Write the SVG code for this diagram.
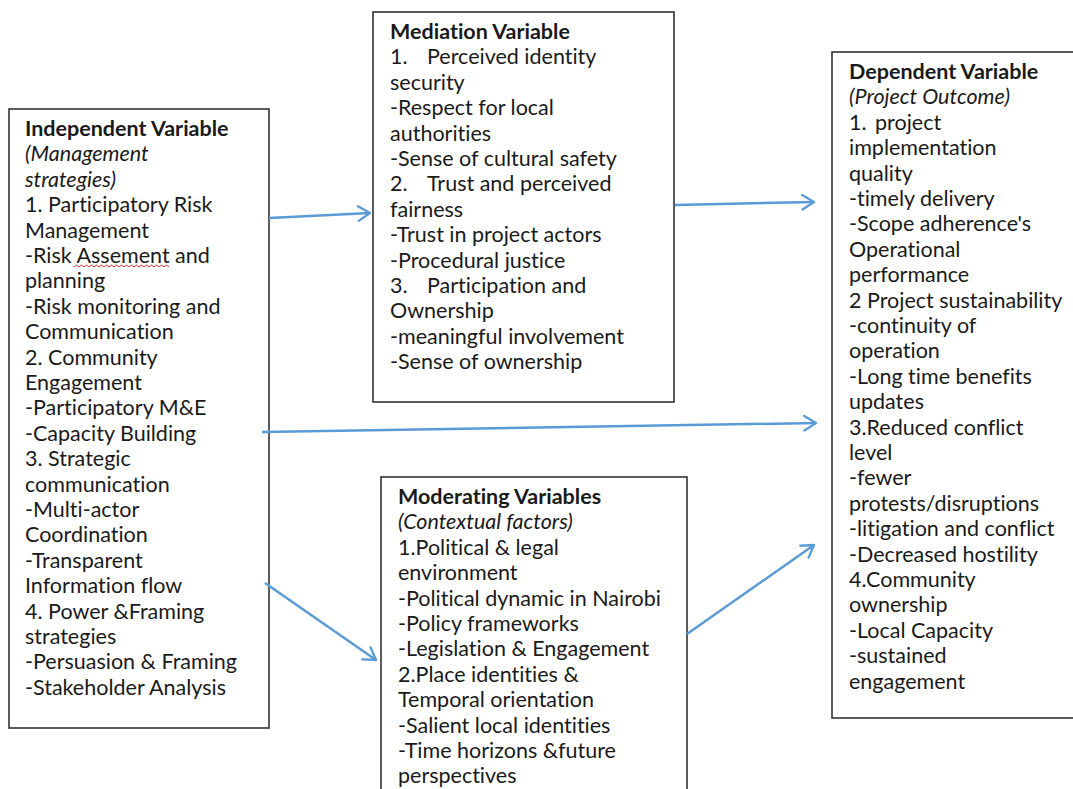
<svg xmlns="http://www.w3.org/2000/svg" width="1073" height="789" viewBox="0 0 1073 789">
<defs>
<style>
.box{fill:#fff;stroke:#333;stroke-width:1.6}
.t{font-family:Lato,"Open Sans","Liberation Sans",sans-serif;font-size:21.5px;fill:#1a1a1a;font-variant-ligatures:none;font-feature-settings:"liga" 0,"dlig" 0}
.b{font-weight:bold}
.i{font-style:italic}
.c{fill:none;stroke:#5B9BD5;stroke-width:2.5;marker-end:url(#ah)}
</style>
<marker id="ah" viewBox="0 0 12 12" refX="10" refY="6" markerWidth="7" markerHeight="7" orient="auto" markerUnits="strokeWidth">
<path d="M2,1 L10,6 L2,11" fill="none" stroke="#5B9BD5" stroke-width="1.6" stroke-linecap="round" stroke-linejoin="round"/>
</marker>
</defs>
<rect width="1073" height="789" fill="#fff"/>
<g id="independent">
<rect class="box" x="9" y="109" width="260" height="619"/>
<text class="t" x="25" y="136">
<tspan class="b" x="25">Independent Variable</tspan>
<tspan class="i" x="25" dy="25.4">(Management</tspan>
<tspan class="i" x="25" dy="25.4">strategies)</tspan>
<tspan x="25" dy="25.4">1. Participatory Risk</tspan>
<tspan x="25" dy="25.4">Management</tspan>
<tspan x="25" dy="25.4">-Risk Assement and</tspan>
<tspan x="25" dy="25.4">planning</tspan>
<tspan x="25" dy="25.4">-Risk monitoring and</tspan>
<tspan x="25" dy="25.4">Communication</tspan>
<tspan x="25" dy="25.4">2. Community</tspan>
<tspan x="25" dy="25.4">Engagement</tspan>
<tspan x="25" dy="25.4">-Participatory M&amp;E</tspan>
<tspan x="25" dy="25.4">-Capacity Building</tspan>
<tspan x="25" dy="25.4">3. Strategic</tspan>
<tspan x="25" dy="25.4">communication</tspan>
<tspan x="25" dy="25.4">-Multi-actor</tspan>
<tspan x="25" dy="25.4">Coordination</tspan>
<tspan x="25" dy="25.4">-Transparent</tspan>
<tspan x="25" dy="25.4">Information flow</tspan>
<tspan x="25" dy="25.4">4. Power &amp;Framing</tspan>
<tspan x="25" dy="25.4">strategies</tspan>
<tspan x="25" dy="25.4">-Persuasion &amp; Framing</tspan>
<tspan x="25" dy="25.4">-Stakeholder Analysis</tspan>
</text>
<path d="M74,267 l2.5,-2 l2.5,2 l2.5,-2 l2.5,2 l2.5,-2 l2.5,2 l2.5,-2 l2.5,2 l2.5,-2 l2.5,2 l2.5,-2 l2.5,2 l2.5,-2 l2.5,2 l2.5,-2 l2.5,2 l2.5,-2 l2.5,2 l2.5,-2 l2.5,2 l2.5,-2 l2.5,2 l2.5,-2 l2.5,2 l2.5,-2 l2.5,2 l2.5,-2 l2.5,2 l2.5,-2 l2.5,2 l2.5,-2 l2.5,2 l2.5,-2 l2.5,2 l2.5,-2 l2.5,2 l2.5,-2 l2.5,2" fill="none" stroke="#e03030" stroke-width="1"/>
</g>
<g id="mediation">
<rect class="box" x="373" y="12" width="301" height="390"/>
<text class="t" x="390" y="39">
<tspan class="b" x="390">Mediation Variable</tspan>
<tspan x="390" dy="25.4">1.</tspan><tspan x="427">Perceived identity</tspan>
<tspan x="390" dy="25.4">security</tspan>
<tspan x="390" dy="25.4">-Respect for local</tspan>
<tspan x="390" dy="25.4">authorities</tspan>
<tspan x="390" dy="25.4">-Sense of cultural safety</tspan>
<tspan x="390" dy="25.4">2.</tspan><tspan x="427">Trust and perceived</tspan>
<tspan x="390" dy="25.4">fairness</tspan>
<tspan x="390" dy="25.4">-Trust in project actors</tspan>
<tspan x="390" dy="25.4">-Procedural justice</tspan>
<tspan x="390" dy="25.4">3.</tspan><tspan x="427">Participation and</tspan>
<tspan x="390" dy="25.4">Ownership</tspan>
<tspan x="390" dy="25.4">-meaningful involvement</tspan>
<tspan x="390" dy="25.4">-Sense of ownership</tspan>
</text>
</g>
<g id="moderating">
<rect class="box" x="381" y="477" width="306" height="330"/>
<text class="t" x="398" y="504">
<tspan class="b" x="398">Moderating Variables</tspan>
<tspan class="i" x="398" dy="25.4">(Contextual factors)</tspan>
<tspan x="398" dy="25.4">1.Political &amp; legal</tspan>
<tspan x="398" dy="25.4">environment</tspan>
<tspan x="398" dy="25.4">-Political dynamic in Nairobi</tspan>
<tspan x="398" dy="25.4">-Policy frameworks</tspan>
<tspan x="398" dy="25.4">-Legislation &amp; Engagement</tspan>
<tspan x="398" dy="25.4">2.Place identities &amp;</tspan>
<tspan x="398" dy="25.4">Temporal orientation</tspan>
<tspan x="398" dy="25.4">-Salient local identities</tspan>
<tspan x="398" dy="25.4">-Time horizons &amp;future</tspan>
<tspan x="398" dy="25.4">perspectives</tspan>
</text>
</g>
<g id="dependent">
<rect class="box" x="832" y="52" width="260" height="666"/>
<text class="t" x="849" y="79">
<tspan class="b" x="849">Dependent Variable</tspan>
<tspan class="i" x="849" dy="25.4">(Project Outcome)</tspan>
<tspan x="849" dy="25.4">1.</tspan><tspan x="875">project</tspan>
<tspan x="849" dy="25.4">implementation</tspan>
<tspan x="849" dy="25.4">quality</tspan>
<tspan x="849" dy="25.4">-timely delivery</tspan>
<tspan x="849" dy="25.4">-Scope adherence's</tspan>
<tspan x="849" dy="25.4">Operational</tspan>
<tspan x="849" dy="25.4">performance</tspan>
<tspan x="849" dy="25.4">2 Project sustainability</tspan>
<tspan x="849" dy="25.4">-continuity of</tspan>
<tspan x="849" dy="25.4">operation</tspan>
<tspan x="849" dy="25.4">-Long time benefits</tspan>
<tspan x="849" dy="25.4">updates</tspan>
<tspan x="849" dy="25.4">3.Reduced conflict</tspan>
<tspan x="849" dy="25.4">level</tspan>
<tspan x="849" dy="25.4">-fewer</tspan>
<tspan x="849" dy="25.4">protests/disruptions</tspan>
<tspan x="849" dy="25.4">-litigation and conflict</tspan>
<tspan x="849" dy="25.4">-Decreased hostility</tspan>
<tspan x="849" dy="25.4">4.Community</tspan>
<tspan x="849" dy="25.4">ownership</tspan>
<tspan x="849" dy="25.4">-Local Capacity</tspan>
<tspan x="849" dy="25.4">-sustained</tspan>
<tspan x="849" dy="25.4">engagement</tspan>
</text>
</g>
<g id="connectors">
<line class="c" x1="269" y1="218" x2="370" y2="213"/>
<line class="c" x1="675" y1="205" x2="814" y2="202"/>
<line class="c" x1="262" y1="432" x2="816" y2="423"/>
<line class="c" x1="265" y1="583" x2="376" y2="660"/>
<line class="c" x1="687" y1="634" x2="814" y2="545"/>
</g>
</svg>
